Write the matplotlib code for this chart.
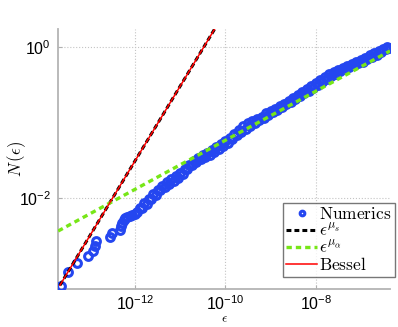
import numpy as np
import matplotlib
matplotlib.use('Agg')
import matplotlib.pyplot as plt
from matplotlib.ticker import FixedLocator, NullLocator, LogFormatterSciNotation
from matplotlib.font_manager import FontProperties

plt.rcParams['font.family'] = ['Liberation Sans', 'DejaVu Sans']
plt.rcParams['mathtext.fontset'] = 'custom'
plt.rcParams['mathtext.rm'] = 'Liberation Sans'
plt.rcParams['mathtext.it'] = 'Liberation Sans:italic'

# numerics, log10 values (sparse head, then dense band)
log_eps_num = [-13.64, -13.50, -13.30, -13.04, -12.93, -12.90, -12.86, -12.57, -12.52,
               -12.33, -12.31, -12.29, -12.26, -12.22, -12.18, -12.12, -12.07, -12.01,
               -11.95, -11.85, -11.75, -11.65, -11.55, -11.45, -11.35, -11.25, -11.15,
               -11.05, -10.95, -10.85, -10.75, -10.65, -10.55, -10.45, -10.35, -10.25,
               -10.15, -10.05, -9.95, -9.85, -9.75, -9.65, -9.55, -9.45, -9.35, -9.25,
               -9.15, -9.05, -8.95, -8.85, -8.75, -8.65, -8.55, -8.45, -8.35, -8.25,
               -8.15, -8.05, -7.95, -7.85, -7.75, -7.65, -7.55, -7.45, -7.35, -7.25,
               -7.15, -7.05, -6.95, -6.85, -6.75, -6.65, -6.55, -6.45, -6.38]
log_N_num = [-3.17, -2.98, -2.87, -2.77, -2.70, -2.64, -2.57, -2.52, -2.46,
             -2.42, -2.37, -2.33, -2.30, -2.27, -2.26, -2.24, -2.23, -2.21,
             -2.19, -2.14, -2.08, -2.02, -1.96, -1.90, -1.85, -1.81, -1.77,
             -1.73, -1.68, -1.62, -1.57, -1.52, -1.49, -1.46, -1.43, -1.39,
             -1.35, -1.31, -1.27, -1.22, -1.17, -1.12, -1.08, -1.04, -1.00, -0.97,
             -0.94, -0.90, -0.86, -0.83, -0.80, -0.76, -0.73, -0.69, -0.65, -0.61,
             -0.58, -0.54, -0.50, -0.46, -0.42, -0.38, -0.35, -0.32, -0.29, -0.26,
             -0.24, -0.21, -0.19, -0.16, -0.13, -0.10, -0.06, -0.03, -0.01]
# second row of the dense band (upper edge)
log_eps_band = [-11.90, -11.80, -11.70, -11.60, -11.50, -11.40, -11.30, -11.20, -11.10,
                -11.00, -10.90, -10.80, -10.70, -10.60, -10.50, -10.40, -10.30, -10.20,
                -10.10, -10.00, -9.90, -9.80, -9.70, -9.60, -9.50, -9.40, -9.30, -9.20,
                -9.10, -9.00, -8.90, -8.80, -8.70, -8.60, -8.50, -8.40, -8.30, -8.20,
                -8.10, -8.00, -7.90, -7.80, -7.70, -7.60, -7.50, -7.40, -7.30, -7.20,
                -7.10, -7.00, -6.90, -6.80, -6.70, -6.60, -6.50, -6.42]
log_N_band = [-2.13, -2.07, -2.01, -1.95, -1.89, -1.84, -1.79, -1.75, -1.71,
              -1.67, -1.61, -1.56, -1.51, -1.47, -1.43, -1.40, -1.37, -1.33,
              -1.29, -1.25, -1.20, -1.15, -1.10, -1.05, -1.01, -0.98, -0.95, -0.92,
              -0.88, -0.85, -0.82, -0.78, -0.75, -0.71, -0.67, -0.63, -0.59, -0.56,
              -0.52, -0.48, -0.44, -0.40, -0.36, -0.33, -0.30, -0.27, -0.25, -0.22,
              -0.19, -0.17, -0.14, -0.11, -0.08, -0.05, -0.02, 0.00]

# power laws (log10 endpoints)
log_eps_s = [-13.67, -10.24]
log_N_s = [-3.16, 0.24]
log_eps_a = [-13.71, -6.35]
log_N_a = [-2.44, -0.05]
log_eps_bessel = [-13.67, -10.24]
log_N_bessel = [-3.16, 0.24]

eps_num = 10.0 ** np.array(log_eps_num + log_eps_band)
N_num = 10.0 ** np.array(log_N_num + log_N_band)

fig = plt.figure(figsize=(3.98, 3.27), dpi=100)
ax = fig.add_axes([0.146, 0.116, 0.834, 0.795])

blue = '#2446f0'
ax.plot(eps_num, N_num, 'o', ls='none', color=blue, mfc='none', mec=blue,
        ms=5.6, mew=2.2, label=r'$\mathrm{Numerics}$', zorder=3)
ax.plot(10.0 ** np.array(log_eps_s), 10.0 ** np.array(log_N_s), color='black', lw=2.2,
        dashes=(1.6, 1.0), label=r'$\epsilon^{\mu_s}$', zorder=4)
ax.plot(10.0 ** np.array(log_eps_a), 10.0 ** np.array(log_N_a), color='#77e617', lw=2.4,
        dashes=(1.6, 1.2), label=r'$\epsilon^{\mu_\alpha}$', zorder=4)
ax.plot(10.0 ** np.array(log_eps_bessel), 10.0 ** np.array(log_N_bessel), color='red',
        lw=1.1, label=r'$\mathrm{Bessel}$', zorder=5)

ax.set_xscale('log')
ax.set_yscale('log')
ax.set_xlim(10 ** -13.71, 10 ** -6.35)
ax.set_ylim(10 ** -3.21, 10 ** 0.24)

ax.xaxis.set_major_locator(FixedLocator([1e-12, 1e-10, 1e-8]))
ax.yaxis.set_major_locator(FixedLocator([1e-2, 1e0]))
ax.xaxis.set_minor_locator(NullLocator())
ax.yaxis.set_minor_locator(NullLocator())
ax.xaxis.set_major_formatter(LogFormatterSciNotation())
ax.yaxis.set_major_formatter(LogFormatterSciNotation())
ax.tick_params(direction='in', length=3, color='#b0b0b0', labelsize=11.5, pad=5)
ax.tick_params(axis='x', pad=3.5)
ax.grid(True, color='#c4c4c4', ls=':', lw=0.8)

for s in ['top', 'right']:
    ax.spines[s].set_visible(False)
for s in ['left', 'bottom']:
    ax.spines[s].set_color('#b4b4b4')
    ax.spines[s].set_linewidth(1.3)

cm = FontProperties(size=9.5, math_fontfamily='cm')
ax.set_xlabel(r'$\epsilon$', fontproperties=cm, va='top')
ax.xaxis.set_label_coords(0.5, -0.092)
ax.set_ylabel(r'$N\,(\epsilon)$', fontproperties=FontProperties(size=12, math_fontfamily='cm'),
              va='center')
ax.yaxis.set_label_coords(-0.125, 0.5)

leg = ax.legend(loc='lower right', bbox_to_anchor=(0.992, 0.153),
                bbox_transform=fig.transFigure,
                prop=FontProperties(size=12.5, math_fontfamily='cm'),
                frameon=True, fancybox=False, borderpad=0.2, labelspacing=0.02,
                handlelength=1.8, handletextpad=0.1, borderaxespad=0, markerscale=0.6)
leg.get_frame().set_edgecolor('#555555')
leg.get_frame().set_linewidth(1.0)
leg.set_zorder(10)

fig.savefig('out.png', dpi=100)
